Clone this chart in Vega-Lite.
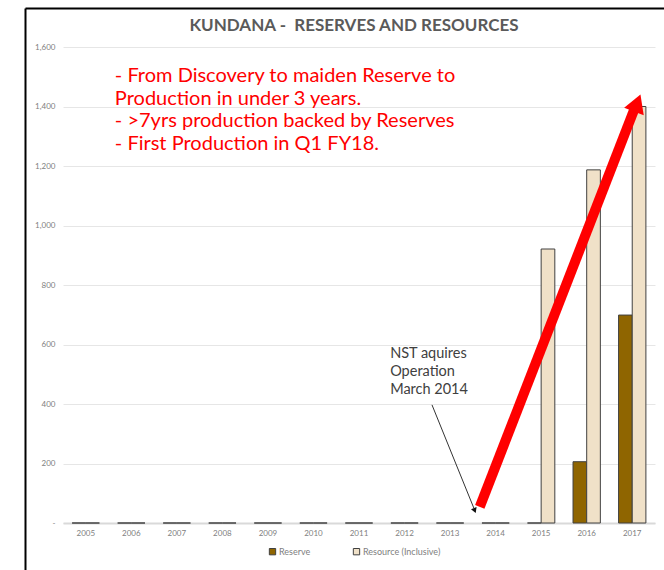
{
  "$schema": "https://vega.github.io/schema/vega-lite/v6.json",
  "width": 592,
  "height": 476,
  "autosize": {"type": "none"},
  "padding": {"left": 63, "top": 47, "right": 9, "bottom": 47},
  "background": "white",
  "title": {"text": "KUNDANA -\u00a0 RESERVES AND RESOURCES", "font": "Lato", "fontSize": 17, "fontWeight": "bold", "color": "#5a5a5a", "anchor": "middle", "offset": 0, "dy": 27, "dx": -5},
  "config": {"view": {"stroke": null}, "font": "Lato"},
  "datasets": {
    "bars": [
      {"year": "2005", "series": "Reserve", "value": 0}, {"year": "2005", "series": "Resource (Inclusive)", "value": 0},
      {"year": "2006", "series": "Reserve", "value": 0}, {"year": "2006", "series": "Resource (Inclusive)", "value": 0},
      {"year": "2007", "series": "Reserve", "value": 0}, {"year": "2007", "series": "Resource (Inclusive)", "value": 0},
      {"year": "2008", "series": "Reserve", "value": 0}, {"year": "2008", "series": "Resource (Inclusive)", "value": 0},
      {"year": "2009", "series": "Reserve", "value": 0}, {"year": "2009", "series": "Resource (Inclusive)", "value": 0},
      {"year": "2010", "series": "Reserve", "value": 0}, {"year": "2010", "series": "Resource (Inclusive)", "value": 0},
      {"year": "2011", "series": "Reserve", "value": 0}, {"year": "2011", "series": "Resource (Inclusive)", "value": 0},
      {"year": "2012", "series": "Reserve", "value": 0}, {"year": "2012", "series": "Resource (Inclusive)", "value": 0},
      {"year": "2013", "series": "Reserve", "value": 0}, {"year": "2013", "series": "Resource (Inclusive)", "value": 0},
      {"year": "2014", "series": "Reserve", "value": 0}, {"year": "2014", "series": "Resource (Inclusive)", "value": 0},
      {"year": "2015", "series": "Reserve", "value": 0}, {"year": "2015", "series": "Resource (Inclusive)", "value": 921},
      {"year": "2016", "series": "Reserve", "value": 206}, {"year": "2016", "series": "Resource (Inclusive)", "value": 1187},
      {"year": "2017", "series": "Reserve", "value": 699}, {"year": "2017", "series": "Resource (Inclusive)", "value": 1400}
    ],
    "redLine": [{"px": 9.16, "py": 54, "px2": 12.55, "py2": 1388}],
    "redHead": [{"px": 12.62, "py": 1412}],
    "blackLine": [{"px": 8.11, "py": 397, "px2": 9.03, "py2": 50}],
    "blackHead": [{"px": 9.05, "py": 42}],
    "redText": [{"px": 1.14, "py": 1482, "label": "- From Discovery to maiden Reserve to\nProduction in under 3 years.\n- >7yrs production backed by Reserves\n- First Production in Q1 FY18."}],
    "nstText": [{"px": 7.19, "py": 555, "label": "NST aquires\nOperation\nMarch 2014"}]
  },
  "layer": [
    {
      "data": {"name": "bars"},
      "mark": {"type": "bar", "stroke": "#404040", "strokeWidth": 1},
      "encoding": {
        "x": {"field": "year", "type": "ordinal", "scale": {"paddingInner": 0.4, "paddingOuter": 0.2},
          "axis": {"title": null, "labelAngle": 0, "ticks": false, "domainColor": "#d9d9d9", "domainWidth": 2, "labelColor": "#808080", "labelFontSize": 8, "labelPadding": 6, "grid": false}},
        "xOffset": {"field": "series", "type": "nominal"},
        "y": {"field": "value", "type": "quantitative", "scale": {"domain": [0, 1600], "nice": false},
          "axis": {"title": null, "orient": "left", "values": [0, 200, 400, 600, 800, 1000, 1200, 1400, 1600], "domain": false, "ticks": false, "labelPadding": 8, "labelColor": "#808080", "labelFontSize": 8, "gridColor": "#e6e6e6", "labelExpr": "datum.value == 0 ? '-' : format(datum.value, ',')"}},
        "color": {"field": "series", "type": "nominal",
          "scale": {"domain": ["Reserve", "Resource (Inclusive)"], "range": ["#8f6500", "#f0e1c8"]},
          "legend": {"orient": "none", "legendX": 205, "legendY": 500, "direction": "horizontal", "title": null, "symbolType": "square", "symbolSize": 40, "symbolStrokeColor": "#404040", "symbolStrokeWidth": 1, "labelFontSize": 9, "labelColor": "#808080", "columnPadding": 40, "labelOffset": 2}}
      }
    },
    {
      "encoding": {
        "x": {"field": "px", "type": "quantitative", "scale": {"domain": [-0.835, 13.209], "range": [-38, 601], "nice": false, "zero": false},
          "axis": {"orient": "top", "offset": 39, "labels": false, "ticks": false, "grid": false, "title": null, "domainColor": "#000000", "domainWidth": 2}},
        "y": {"field": "py", "type": "quantitative", "scale": {"domain": [-158, 1731], "range": [523, -39], "nice": false, "zero": false},
          "axis": {"orient": "left", "offset": 38, "labels": false, "ticks": false, "grid": false, "title": null, "domainColor": "#000000", "domainWidth": 2}}
      },
      "layer": [
        {"data": {"name": "redLine"}, "mark": {"type": "rule", "color": "#ff0000", "strokeWidth": 10, "strokeCap": "butt"},
          "encoding": {"x2": {"field": "px2"}, "y2": {"field": "py2"}}},
        {"data": {"name": "redHead"}, "mark": {"type": "point", "shape": "triangle-up", "filled": true, "color": "#ff0000", "opacity": 1, "size": 440, "angle": 21}},
        {"data": {"name": "blackLine"}, "mark": {"type": "rule", "color": "#333333", "strokeWidth": 1}, "encoding": {"x2": {"field": "px2"}, "y2": {"field": "py2"}}},
        {"data": {"name": "blackHead"}, "mark": {"type": "point", "shape": "triangle-up", "filled": true, "color": "#111111", "opacity": 1, "size": 36, "angle": 158}},
        {"data": {"name": "redText"}, "mark": {"type": "text", "align": "left", "baseline": "alphabetic", "fontSize": 20, "lineHeight": 22.5, "color": "#ff0000", "lineBreak": "\n"},
          "encoding": {"text": {"field": "label"}}},
        {"data": {"name": "nstText"}, "mark": {"type": "text", "align": "left", "baseline": "alphabetic", "fontSize": 14.5, "lineHeight": 18, "color": "#404040", "lineBreak": "\n"},
          "encoding": {"text": {"field": "label"}}}
      ]
    }
  ],
  "resolve": {"scale": {"x": "independent", "y": "independent"}, "axis": {"x": "independent", "y": "independent"}}
}
